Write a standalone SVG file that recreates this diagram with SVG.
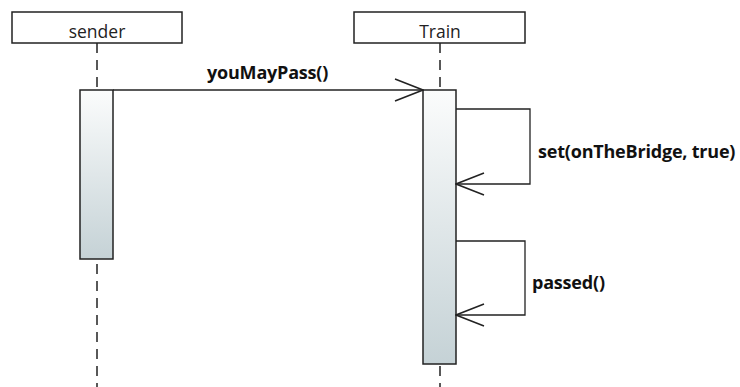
<svg xmlns="http://www.w3.org/2000/svg" width="740" height="387" viewBox="0 0 740 387">
<defs>
<linearGradient id="act" x1="0" y1="0" x2="0" y2="1">
<stop offset="0" stop-color="#fbfcfc"/>
<stop offset="1" stop-color="#c5d2d6"/>
</linearGradient>
<marker id="open" viewBox="0 0 30 24" refX="29" refY="12" markerWidth="30" markerHeight="24" markerUnits="userSpaceOnUse" orient="auto">
<path d="M1,1 L29,12 L1,23" fill="none" stroke="#222" stroke-width="1.5"/>
</marker>
<style>
.head{fill:#fff;stroke:#222;stroke-width:1.5}
.life{stroke:#222;stroke-width:1.5;stroke-dasharray:10,7;fill:none}
.act{fill:url(#act);stroke:#222;stroke-width:1.5}
.msg{fill:none;stroke:#222;stroke-width:1.3}
.ht{font-family:"Open Sans",sans-serif;font-size:17.5px;fill:#222;text-anchor:middle}
.ml{font-family:"Open Sans",sans-serif;font-size:18px;font-weight:700;fill:#111;letter-spacing:-0.2px}
</style>
</defs>
<rect width="740" height="387" fill="#fff"/>
<g id="sender">
<line class="life" x1="97" y1="43" x2="97" y2="387"/>
<rect class="head" x="12" y="12" width="170" height="31"/>
<text class="ht" x="97" y="38">sender</text>
<rect class="act" x="80" y="90" width="33" height="169"/>
</g>
<g id="train">
<line class="life" x1="440" y1="43" x2="440" y2="387"/>
<rect class="head" x="354" y="12" width="171" height="31"/>
<text class="ht" x="440" y="38">Train</text>
<rect class="act" x="423" y="90" width="33" height="274"/>
</g>
<g id="connectors">
<line class="msg" x1="113" y1="90" x2="423" y2="90" marker-end="url(#open)"/>
<text class="ml" x="207" y="79">youMayPass()</text>
<polyline class="msg" points="456,109 530,109 530,184 456,184" marker-end="url(#open)"/>
<text class="ml" x="538" y="158">set(onTheBridge, true)</text>
<polyline class="msg" points="456,241 525,241 525,315 456,315" marker-end="url(#open)"/>
<text class="ml" x="532" y="289">passed()</text>
</g>
</svg>
